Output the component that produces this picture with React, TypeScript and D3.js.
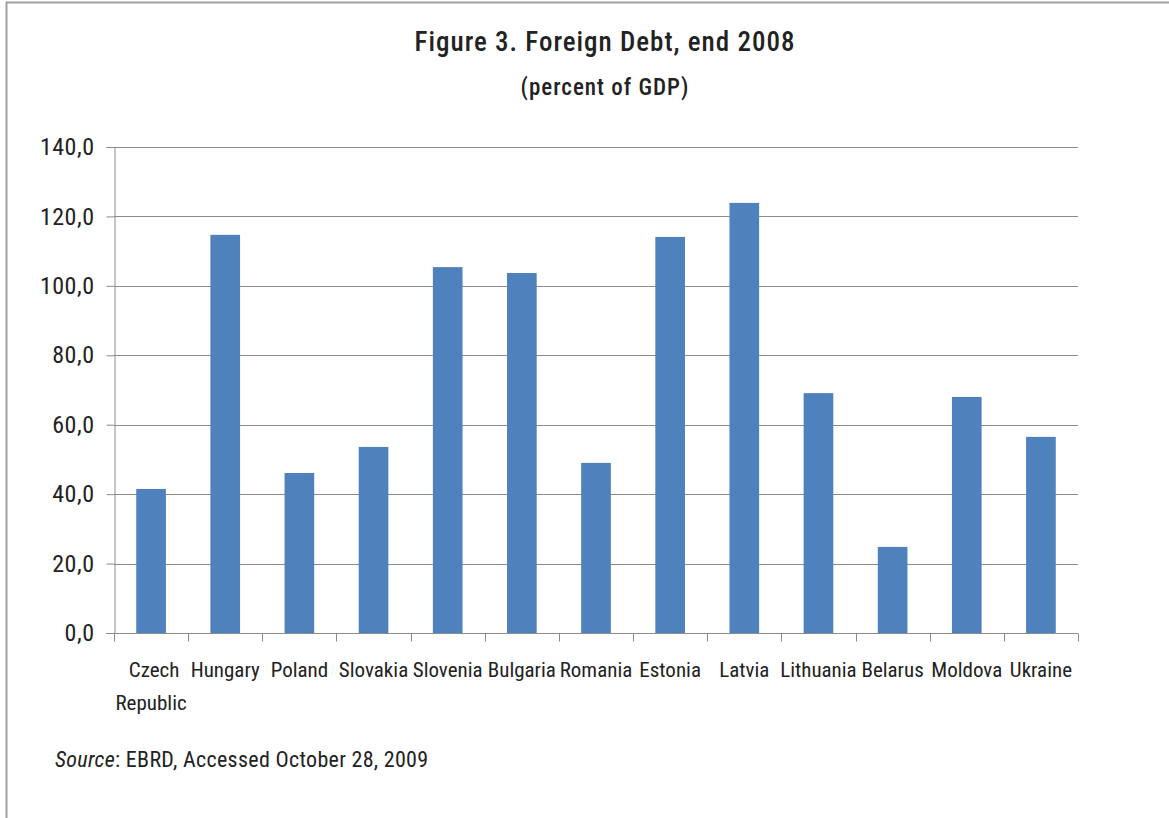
import { useEffect, useRef } from "react";
import * as d3 from "d3";

const countries = [
  "Czech Republic", "Hungary", "Poland", "Slovakia", "Slovenia", "Bulgaria", "Romania",
  "Estonia", "Latvia", "Lithuania", "Belarus", "Moldova", "Ukraine",
];
const debtPct = [41.5, 114.7, 46.1, 53.6, 105.4, 103.7, 49.0, 114.1, 123.9, 69.1, 24.8, 68.0, 56.5];
const yTicks = [0, 20, 40, 60, 80, 100, 120, 140];

const FONT = "'Liberation Sans Narrow', 'Arial Narrow', 'Roboto Condensed', 'Liberation Sans', sans-serif";

export default function App() {
  const svgRef = useRef<SVGSVGElement>(null);

  useEffect(() => {
    if (!svgRef.current) return;
    const svg = d3.select(svgRef.current);
    svg.selectAll("*").remove();

    const width = 1169, height = 818;
    const margin = { top: 147, right: 91, bottom: 185, left: 114 };

    const x = d3.scaleBand<string>().domain(countries).range([margin.left, width - margin.right]).paddingInner(0.6).paddingOuter(0.3);
    const xOuter = d3.scaleBand<string>().domain(countries).range([margin.left, width - margin.right]);
    const y = d3.scaleLinear().domain([0, 140]).range([height - margin.bottom, margin.top]);

    // frame
    svg.append("rect").attr("x", 6.5).attr("y", 2.5).attr("width", 1200).attr("height", 900)
      .attr("fill", "white").attr("stroke", "#a0a0a0").attr("stroke-width", 2);

    // gridlines
    svg.append("g").selectAll("line").data(yTicks.filter((d) => d > 0)).join("line")
      .attr("x1", margin.left).attr("x2", width - margin.right)
      .attr("y1", (d) => Math.round(y(d)) + 0.5).attr("y2", (d) => Math.round(y(d)) + 0.5)
      .attr("stroke", "#8c8c8c").attr("stroke-width", 1);

    // bars
    svg.append("g").selectAll("rect").data(countries).join("rect")
      .attr("x", (d) => x(d)!).attr("width", x.bandwidth())
      .attr("y", (_, i) => y(debtPct[i])).attr("height", (_, i) => y(0) - y(debtPct[i]))
      .attr("fill", "#4f81bd");

    // y axis
    const yAxis = svg.append("g").attr("transform", `translate(${margin.left + 0.5},0)`)
      .call(d3.axisLeft(y).tickValues(yTicks).tickSize(8).tickPadding(12).tickFormat((d) => d3.format(".1f")(d as number).replace(".", ",")));
    yAxis.select(".domain").attr("stroke", "#8c8c8c");
    yAxis.selectAll(".tick line").attr("stroke", "#8c8c8c");
    yAxis.selectAll(".tick text").attr("font-family", FONT).attr("font-size", 24).attr("letter-spacing", 0.5).attr("fill", "#222");

    // x axis
    const x0 = Math.round(y(0)) + 0.5;
    svg.append("line").attr("x1", margin.left - 8).attr("x2", width - margin.right).attr("y1", x0).attr("y2", x0)
      .attr("stroke", "#8c8c8c");
    svg.append("g").selectAll("line").data([...countries, "_end"]).join("line")
      .attr("x1", (d, i) => Math.round(i < countries.length ? xOuter(d)! : width - margin.right) + 0.5)
      .attr("x2", (d, i) => Math.round(i < countries.length ? xOuter(d)! : width - margin.right) + 0.5)
      .attr("y1", x0).attr("y2", x0 + 8).attr("stroke", "#8c8c8c");

    const labels = svg.append("g").attr("font-family", FONT).attr("font-size", 21).attr("fill", "#222").attr("text-anchor", "middle");
    countries.forEach((c) => {
      const cx = xOuter(c)! + xOuter.bandwidth() / 2;
      const parts = c === "Czech Republic" ? ["Czech", "Republic"] : [c];
      parts.forEach((p, j) => {
        labels.append("text").attr("x", cx + (j === 0 && parts.length > 1 ? 3 : 0)).attr("y", 677 + j * 33).text(p);
      });
    });

    // titles
    svg.append("text").attr("x", 605).attr("y", 51).attr("text-anchor", "middle")
      .attr("font-family", FONT).attr("font-size", 27).attr("font-weight", 500).attr("letter-spacing", 1).attr("fill", "#222")
      .text("Figure 3. Foreign Debt, end 2008");
    svg.append("text").attr("x", 605).attr("y", 95).attr("text-anchor", "middle")
      .attr("font-family", FONT).attr("font-size", 23).attr("font-weight", 500).attr("letter-spacing", 1).attr("fill", "#222")
      .text("(percent of GDP)");

    const src = svg.append("text").attr("x", 55).attr("y", 767)
      .attr("font-family", FONT).attr("font-size", 22).attr("letter-spacing", 0.3).attr("fill", "#222");
    src.append("tspan").attr("font-style", "italic").text("Source");
    src.append("tspan").text(": EBRD, Accessed October 28, 2009");
  }, []);

  return (
    <div style={{ position: "absolute", left: 0, top: 0 }}>
      <svg ref={svgRef} width={1169} height={818} style={{ display: "block" }} />
    </div>
  );
}
